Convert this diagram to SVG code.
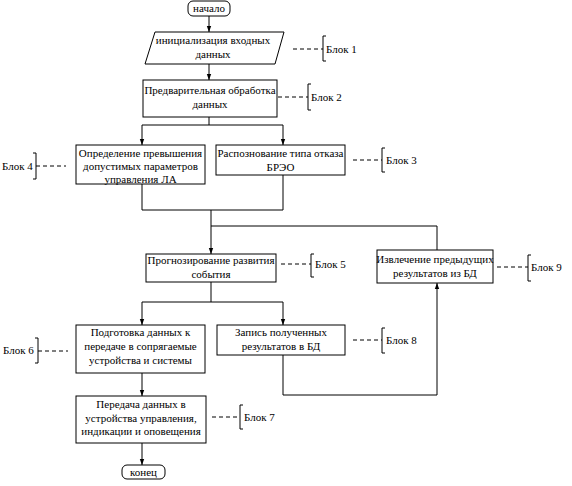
<svg xmlns="http://www.w3.org/2000/svg" width="572" height="486" viewBox="0 0 572 486">
<defs>
<marker id="ah" viewBox="0 0 6 6" refX="6" refY="3" markerWidth="6" markerHeight="6" markerUnits="userSpaceOnUse" orient="auto">
<path d="M0,0.8 L6,3 L0,5.2 Z" fill="#000"/>
</marker>
</defs>
<style>
.b{fill:#fff;stroke:#000;stroke-width:1}
.t{font-size:11px;fill:#000;text-anchor:middle}
.l{font-size:11px;fill:#000}
.c{fill:none;stroke:#000;stroke-width:1}
.a{fill:none;stroke:#000;stroke-width:1;marker-end:url(#ah)}
.d{fill:none;stroke:#000;stroke-width:1;stroke-dasharray:4,3}
.k{fill:none;stroke:#000;stroke-width:1}
</style>
<rect width="572" height="486" fill="#fff"/>
<g id="connectors">
<path class="a" d="M209,16 V32"/>
<path class="a" d="M209,64 V80"/>
<path class="c" d="M209,117 V125"/>
<path class="a" d="M209,125 H142 V145"/>
<path class="a" d="M209,125 H283 V145"/>
<path class="c" d="M142,184 V210 H283 V175"/>
<path class="a" d="M211,210 V254"/>
<path class="c" d="M437,250 V226 H211"/>
<path class="c" d="M211,282 V302"/>
<path class="a" d="M211,302 H142 V325"/>
<path class="a" d="M211,302 H283 V325"/>
<path class="a" d="M142,373 V396"/>
<path class="a" d="M283,355 V395 H437 V283"/>
<path class="a" d="M142,443 V465"/>
</g>
<g font-family="Liberation Serif, Tinos, DejaVu Serif, Times New Roman, serif">
<g id="start">
<rect class="b" x="188" y="1" width="42" height="15" rx="5"/>
<text class="t" x="209" y="12">начало</text>
</g>
<g id="block1">
<polygon class="b" points="155,32 284,32 275,64 145,64"/>
<text class="t" x="213" y="44">инициализация входных</text>
<text class="t" x="213" y="58">данных</text>
</g>
<g id="block2">
<rect class="b" x="143" y="80" width="134" height="37"/>
<text class="t" x="210" y="94">Предварительная обработка</text>
<text class="t" x="210" y="108">данных</text>
</g>
<g id="block4">
<rect class="b" x="76" y="145" width="129" height="39"/>
<text class="t" x="140.5" y="157">Определение превышения</text>
<text class="t" x="140.5" y="170">допустимых параметров</text>
<text class="t" x="140.5" y="182.5">управления ЛА</text>
</g>
<g id="block3">
<rect class="b" x="216" y="145" width="129" height="30"/>
<text class="t" x="280.5" y="157">Распознование типа отказа</text>
<text class="t" x="280.5" y="171">БРЭО</text>
</g>
<g id="block5">
<rect class="b" x="146" y="254" width="130" height="28"/>
<text class="t" x="211" y="264">Прогнозирование развития</text>
<text class="t" x="211" y="278">события</text>
</g>
<g id="block9">
<rect class="b" x="377" y="250" width="116" height="33"/>
<text class="t" x="435" y="263">Извлечение предыдущих</text>
<text class="t" x="435" y="277">результатов из БД</text>
</g>
<g id="block6">
<rect class="b" x="76" y="325" width="129" height="48"/>
<text class="t" x="140.5" y="336">Подготовка данных к</text>
<text class="t" x="140.5" y="350">передаче в сопрягаемые</text>
<text class="t" x="140.5" y="364">устройства и системы</text>
</g>
<g id="block8">
<rect class="b" x="217" y="325" width="128" height="30"/>
<text class="t" x="281" y="336">Запись полученных</text>
<text class="t" x="281" y="350">результатов в БД</text>
</g>
<g id="block7">
<rect class="b" x="76" y="396" width="130" height="47"/>
<text class="t" x="141" y="408">Передача данных в</text>
<text class="t" x="141" y="422">устройства управления,</text>
<text class="t" x="141" y="435">индикации и оповещения</text>
</g>
<g id="end">
<rect class="b" x="122" y="465" width="43" height="14" rx="5"/>
<text class="t" x="143.5" y="476">конец</text>
</g>
<g id="label1">
<path class="d" d="M293,49 H323"/>
<path class="k" d="M326,36 H323 V61 H326"/>
<text class="l" x="326" y="53">Блок 1</text>
</g>
<g id="label2">
<path class="d" d="M278,97 H308"/>
<path class="k" d="M311,84 H308 V110 H311"/>
<text class="l" x="311" y="101">Блок 2</text>
</g>
<g id="label3">
<path class="d" d="M353,160 H382"/>
<path class="k" d="M385,148 H382 V172 H385"/>
<text class="l" x="386" y="164">Блок 3</text>
</g>
<g id="label4">
<path class="d" d="M36,166 H66"/>
<path class="k" d="M33,153 H36 V179 H33"/>
<text class="l" x="2" y="170">Блок 4</text>
</g>
<g id="label5">
<path class="d" d="M281,264 H311"/>
<path class="k" d="M314,254 H311 V277 H314"/>
<text class="l" x="315" y="268">Блок 5</text>
</g>
<g id="label9">
<path class="d" d="M497,267 H528"/>
<path class="k" d="M531,255 H528 V281 H531"/>
<text class="l" x="531" y="271">Блок 9</text>
</g>
<g id="label6">
<path class="d" d="M38,351 H68"/>
<path class="k" d="M35,338 H38 V363 H35"/>
<text class="l" x="3" y="354">Блок 6</text>
</g>
<g id="label8">
<path class="d" d="M353,340 H382"/>
<path class="k" d="M385,328 H382 V353 H385"/>
<text class="l" x="386" y="344">Блок 8</text>
</g>
<g id="label7">
<path class="d" d="M212,417 H240"/>
<path class="k" d="M243,405 H240 V429 H243"/>
<text class="l" x="244" y="421">Блок 7</text>
</g>
</g>
</svg>
